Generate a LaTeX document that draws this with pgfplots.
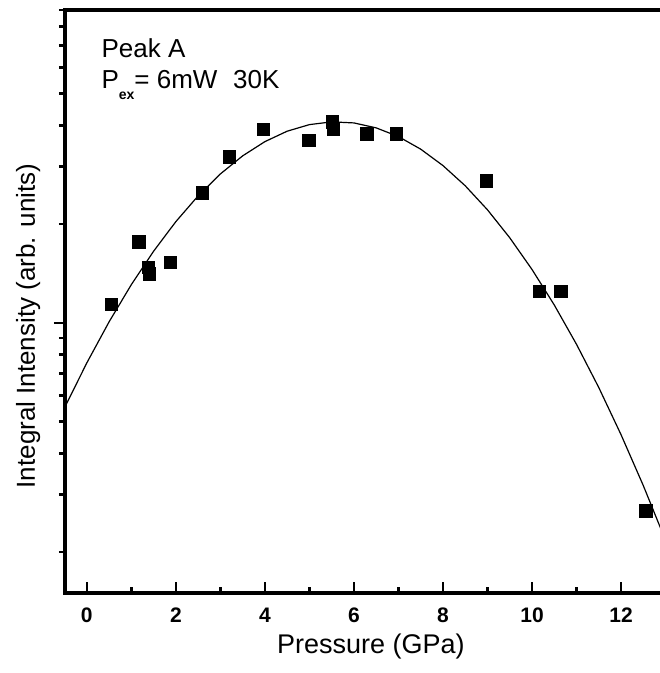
\documentclass[border=0pt]{standalone}
\usepackage{pgfplots}
\pgfplotsset{compat=1.18}
\usepackage{fontspec}
\setmainfont{Liberation Sans}
\begin{document}
\begin{tikzpicture}
\begin{axis}[
  name=ax,
  scale only axis, width=595pt, height=583pt,
  xmin=-0.49, xmax=12.875,
  ymode=log, ymin=0.15, ymax=9,
  axis x line*=box, axis y line*=left,
  axis line style={line width=3.4pt, line cap=rect},
  every outer x axis line/.append style={line width=3.4pt},
  every outer y axis line/.append style={line width=3.4pt},
  xtick={0,2,...,12}, minor xtick={1,3,...,11},
  xticklabels={0,2,4,6,8,10,12},
  xtick pos=left, ytick pos=left,
  xtick align=inside, ytick align=outside,
  ytick={1}, yticklabels={},
  minor ytick={0.2,0.3,0.4,0.5,0.6,0.7,0.8,0.9,2,3,4,5,6,7,8,9},
  major tick length=11pt, minor tick length=6pt,
  every tick/.style={black, line width=2.6pt},
  xticklabel style={font=\fontsize{21}{21}\selectfont\bfseries, anchor=base, yshift=-29pt},
  xlabel={Pressure (GPa)},
  xlabel style={at={(axis description cs:0.514,-0.103)}, anchor=base, font=\fontsize{27}{27}\selectfont},
  ylabel={Integral Intensity (arb. units)},
  ylabel style={at={(axis description cs:-0.062,0.458)}, anchor=center, font=\fontsize{26}{26}\selectfont},
]
\addplot[black, line width=1.2pt] coordinates {
(-0.5,0.551) (0,0.755) (0.5,1.007) (1,1.308) (1.5,1.654) (2,2.036) (2.5,2.439)
(3,2.846) (3.5,3.231) (4,3.571) (4.5,3.843) (5,4.024) (5.5,4.103) (6,4.072)
(6.5,3.934) (7,3.700) (7.5,3.387) (8,3.018) (8.5,2.619) (9,2.212) (9.5,1.818)
(10,1.455) (10.5,1.134) (11,0.860) (11.5,0.635) (12,0.456) (12.5,0.319) (13,0.217)
};
\addplot[only marks, mark=square*, mark size=6.3pt, black] coordinates {
(0.55,1.14) (1.17,1.77) (1.38,1.48) (1.40,1.41) (1.87,1.53) (2.59,2.49)
(3.20,3.21) (3.96,3.90) (4.99,3.61) (5.51,4.10) (5.53,3.90) (6.29,3.77)
(6.95,3.77) (8.97,2.71) (10.16,1.25) (10.65,1.25) (12.56,0.267)
};
\node[anchor=base west, font=\fontsize{26}{26}\selectfont] at (axis description cs:0.0555,0.919) {Peak A};
\node[anchor=base west, font=\fontsize{26}{26}\selectfont] at (axis description cs:0.0555,0.866)
  {P\raisebox{-11pt}{\fontsize{14}{14}\selectfont\bfseries ex}= 6mW\hspace{0.6em}30K};
\end{axis}
\pgfresetboundingbox
\path ([shift={(-65pt,-80pt)}]ax.south west) rectangle ([shift={(0pt,10pt)}]ax.north east);
\end{tikzpicture}
\end{document}
